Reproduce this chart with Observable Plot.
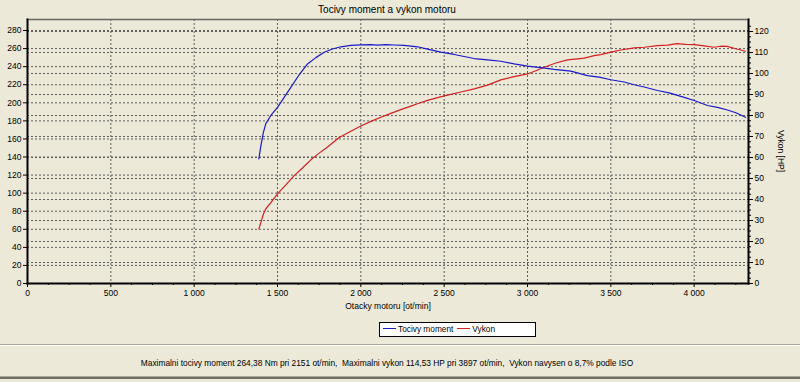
<!DOCTYPE html>
<html><head><meta charset="utf-8">
<script src="https://cdn.jsdelivr.net/npm/d3@7"></script>
<script src="https://cdn.jsdelivr.net/npm/@observablehq/plot@0.6"></script>
<style>
body{margin:0;background:#ECE9D8;font-family:"Liberation Sans",Arial,sans-serif;color:#000;}
#wrap{position:relative;width:800px;height:382px;overflow:hidden;background:#ECE9D8;}
#chart{position:absolute;left:0;top:0;}
#title{position:absolute;left:287px;width:200px;top:4px;text-align:center;font-size:10px;line-height:12px;white-space:nowrap;}
#ylab2{position:absolute;left:731px;width:100px;top:145px;text-align:center;font-size:8.5px;line-height:12px;white-space:nowrap;transform:rotate(90deg);transform-origin:50% 50%;}
#legend{position:absolute;left:379px;top:322px;width:155px;height:13px;background:#fff;border:1px solid #000;font-size:8.3px;line-height:13px;white-space:nowrap;}
#legend .sw{display:inline-block;width:13px;height:0;border-top:1.3px solid;vertical-align:middle;margin:0 2px 0 3px;position:relative;top:-1px;}
#sep1{position:absolute;left:0;top:344px;width:800px;height:0;border-top:1px solid #ACA899;border-bottom:1px solid #fff;}
#sep2{position:absolute;left:0;top:376px;width:800px;height:0;border-top:1px solid #ACA899;border-bottom:2px solid #716F64;}
#caption{position:absolute;left:87px;width:600px;top:357px;text-align:center;font-size:8.35px;line-height:12px;white-space:nowrap;}
</style></head>
<body>
<div id="wrap">
<div id="chart"></div>
<div id="title">Tocivy moment a vykon motoru</div>
<div id="ylab2">Vykon [HP]</div>
<div id="legend"><span class="sw" style="border-color:#1a1ac8"></span>Tocivy moment<span class="sw" style="border-color:#d42020;margin-left:4px"></span>Vykon</div>
<div id="sep1"></div>
<div id="caption">Maximalni tocivy moment 264,38 Nm pri 2151 ot/min,&nbsp; Maximalni vykon 114,53 HP pri 3897 ot/min,&nbsp; Vykon navysen o 8,7% podle ISO</div>
<div id="sep2"></div>
</div>
<script>
// Torque curve (Nm, left axis)
const rpmTorque = [1388,1400,1415,1430,1460,1500,1540,1580,1630,1680,1730,1780,1830,1880,1940,2000,2060,2100,2151,2200,2260,2340,2400,2480,2560,2680,2760,2840,2920,3000,3080,3160,3260,3360,3430,3500,3580,3640,3700,3780,3850,3940,4000,4080,4140,4200,4250,4308];
const torque    = [138,152,167,177,186,195,206,217,231,243,250,256,259.5,262,263.5,264.2,264.3,263.8,264.38,264,263.5,262,259.5,256,253.5,249,247.5,246,243,240.5,239,237,235,230,228.5,225.5,223,220,217.5,213.6,211,206,202.5,197,195,192,189,184];
// Power curve (HP, right axis)
const rpmPower = [1388,1400,1415,1430,1460,1500,1550,1600,1650,1700,1740,1800,1870,1940,2000,2060,2120,2180,2240,2300,2340,2400,2460,2520,2600,2680,2760,2840,2920,3000,3050,3100,3170,3240,3300,3340,3400,3440,3500,3560,3640,3700,3780,3840,3897,3950,4000,4060,4118,4160,4198,4250,4308];
const power    = [26,29,33,35.6,38.5,42.7,47,51.4,55,58.9,61.5,65,69.5,72.5,75,77.2,79.2,81,82.8,84.5,85.6,87.2,88.5,89.7,91.2,92.7,94.5,97,98.5,99.8,101.3,103,105,106.5,107,107.3,108.5,109,110.2,111.2,112.2,112.5,113.3,113.5,114.2,113.9,113.8,113.2,112.5,113.0,112.9,111.8,110.6];
// Tick values
const xTicks = [0,500,1000,1500,2000,2500,3000,3500,4000];
const leftTicks = [0,20,40,60,80,100,120,140,160,180,200,220,240,260,280];
const rightTicks = [0,10,20,30,40,50,60,70,80,90,100,110,120];

const K = 2.3241; // HP -> left-axis units
const tq = rpmTorque.map((r,i)=>({rpm:r, v:torque[i]}));
const pw = rpmPower.map((r,i)=>({rpm:r, v:power[i]*K}));
const fmt = d => d3.format(",")(d).replace(/,/g," ");
const grid = {stroke:"#5e5e5e", strokeDasharray:"2,2", strokeOpacity:1, strokeWidth:1};
const xMinor = d3.range(0,4326,125).filter(d=>d%500!==0);
const rMinor = d3.range(0,125,2.5).filter(d=>d%10!==0);

const chart = Plot.plot({
  width:800, height:315,
  marginTop:19, marginLeft:27, marginRight:52, marginBottom:32,
  style:{background:"transparent", fontFamily:"Liberation Sans, Arial, sans-serif", fontSize:"8.5px", color:"#000"},
  x:{domain:[0,4326]},
  y:{domain:[0,292.2]},
  marks:[
    Plot.ruleY(leftTicks.filter(d=>d>0), grid),
    Plot.ruleY(rightTicks.filter(d=>d>0).map(d=>d*K), grid),
    Plot.ruleX(xTicks.filter(d=>d>0), grid),
    Plot.frame({anchor:"top", stroke:"#666", strokeWidth:1.5}),
    Plot.line(pw, {x:"rpm", y:"v", stroke:"#d42020", strokeWidth:1.2}),
    Plot.line(tq, {x:"rpm", y:"v", stroke:"#1a1ac8", strokeWidth:1.2}),
    Plot.frame({anchor:"left", stroke:"#000", strokeWidth:2}),
    Plot.frame({anchor:"right", stroke:"#000", strokeWidth:2}),
    Plot.frame({anchor:"bottom", stroke:"#000", strokeWidth:2}),
    Plot.axisY(leftTicks, {anchor:"left", tickSize:4, tickPadding:2, label:null, tickFormat:d=>d}),
    Plot.axisY(rightTicks.map(d=>d*K), {anchor:"right", tickSize:4, tickPadding:2, tickFormat:d=>Math.round(d/K), label:null}),
    Plot.axisY(rMinor.map(d=>d*K), {anchor:"right", tickSize:2, tickFormat:()=>"", label:null}),
    Plot.axisX(xTicks, {anchor:"bottom", tickSize:4, tickPadding:2, tickFormat:fmt, label:"Otacky motoru [ot/min]", labelAnchor:"center", labelOffset:25, labelArrow:"none"}),
    Plot.axisX(xMinor, {anchor:"bottom", tickSize:2, tickFormat:()=>"", label:null})
  ]
});
document.getElementById("chart").appendChild(chart);
</script>
</body></html>
